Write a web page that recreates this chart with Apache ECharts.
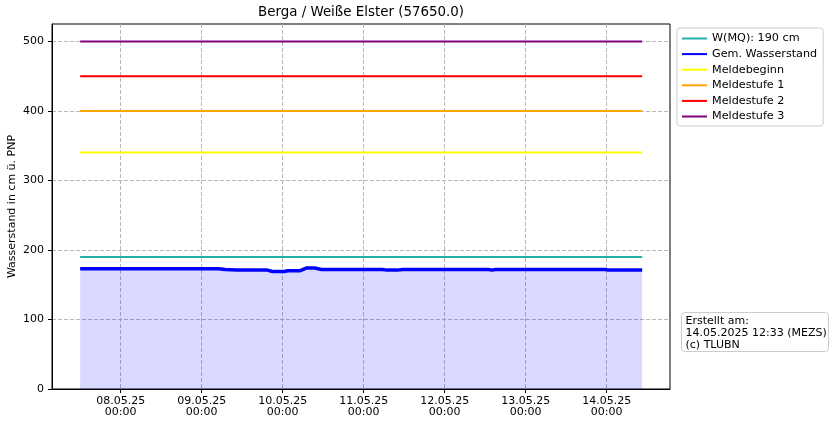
<!DOCTYPE html>
<html>
<head>
<meta charset="utf-8">
<script src="https://cdn.jsdelivr.net/npm/echarts@6/dist/echarts.min.js"></script>
<style>
  html, body { margin: 0; padding: 0; background: #fff; }
  #main { width: 834px; height: 426px; }
</style>
</head>
<body>
<div id="main"></div>
<script>
// Pegel Berga / Weisse Elster, Wasserstand in cm
var startTime = '2025-05-07 12:00';
var endTime = '2025-05-14 10:30';
var axisMin = '2025-05-07 03:40';
var axisMax = '2025-05-14 18:45';
var dayTicks = ['2025-05-08 00:00', '2025-05-09 00:00', '2025-05-10 00:00', '2025-05-11 00:00',
                '2025-05-12 00:00', '2025-05-13 00:00', '2025-05-14 00:00'];
var yTicks = [0, 100, 200, 300, 400, 500];

var levelTimes = ['2025-05-07 12:00', '2025-05-09 05:00', '2025-05-09 07:00', '2025-05-09 10:30',
                  '2025-05-09 19:30', '2025-05-09 21:00', '2025-05-10 00:30', '2025-05-10 01:30',
                  '2025-05-10 05:00', '2025-05-10 07:00', '2025-05-10 09:30', '2025-05-10 11:30',
                  '2025-05-11 05:30', '2025-05-11 07:00', '2025-05-11 10:00', '2025-05-11 11:30',
                  '2025-05-12 13:00', '2025-05-12 14:00', '2025-05-12 15:00', '2025-05-13 23:30',
                  '2025-05-14 00:30', '2025-05-14 10:30'];
var levelValues = [173, 173, 172, 171,
                   171, 169, 169, 170,
                   170, 174, 174, 172,
                   172, 171, 171, 172,
                   172, 171, 172, 172,
                   171, 171];

var mq = 190;
var meldebeginn = 340;
var meldestufe1 = 400;
var meldestufe2 = 450;
var meldestufe3 = 500;

function ts(s) { return new Date(s.replace(' ', 'T')).getTime(); }
function pad(n) { return (n < 10 ? '0' : '') + n; }

var levelData = levelTimes.map(function (t, i) { return [ts(t), levelValues[i]]; });
function flat(v) { return [[ts(startTime), v], [ts(endTime), v]]; }

var font = 'DejaVu Sans';
var myChart = echarts.init(document.getElementById('main'));

function hline(name, v, color) {
    return {
        name: name, type: 'line', data: flat(v), symbol: 'none',
        lineStyle: { color: color, width: 2 }, itemStyle: { color: color },
        silent: true
    };
}

var option = {
    backgroundColor: '#fff',
    animation: false,
    textStyle: { fontFamily: font },
    grid: {
        left: 52, right: 164, top: 24, bottom: 37,
        containLabel: false, outerBoundsMode: 'none',
        show: true, borderColor: '#000', borderWidth: 1, backgroundColor: 'transparent'
    },
    legend: {
        orient: 'vertical', left: 677, top: 28,
        itemWidth: 25, itemHeight: 12, itemGap: 4.6,
        padding: [5, 6, 4, 4],
        borderColor: '#cccccc', borderWidth: 1, borderRadius: 3,
        backgroundColor: '#fff',
        itemStyle: { opacity: 0, borderWidth: 0 },
        textStyle: { fontFamily: font, fontSize: 11.2, color: '#000' },
        data: ['W(MQ): 190 cm', 'Gem. Wasserstand', 'Meldebeginn', 'Meldestufe 1', 'Meldestufe 2', 'Meldestufe 3']
    },
    xAxis: {
        type: 'value', min: ts(axisMin), max: ts(axisMax),
        axisLine: { lineStyle: { color: '#000' } },
        axisTick: { show: true, length: 4, lineStyle: { color: '#000' }, customValues: dayTicks.map(ts) },
        axisLabel: {
            customValues: dayTicks.map(ts),
            color: '#000', fontFamily: font, fontSize: 11, lineHeight: 11, margin: 7,
            formatter: function (v) {
                var d = new Date(v);
                return pad(d.getDate()) + '.' + pad(d.getMonth() + 1) + '.' + String(d.getFullYear()).slice(2) +
                    '\n' + pad(d.getHours()) + ':' + pad(d.getMinutes());
            }
        },
        splitLine: { show: true, lineStyle: { color: '#b8b8b8', type: [4, 2], width: 1 } }
    },
    yAxis: {
        type: 'value', min: 0, max: 525,
        name: 'Wasserstand in cm ü. PNP', nameLocation: 'middle', nameGap: 34,
        nameMoveOverlap: false,
        nameTextStyle: { fontFamily: font, fontSize: 11, color: '#000' },
        axisLine: { show: true, lineStyle: { color: '#000' } },
        axisTick: { show: true, length: 4, lineStyle: { color: '#000' }, customValues: yTicks },
        axisLabel: { customValues: yTicks, color: '#000', fontFamily: font, fontSize: 11, margin: 8 },
        splitLine: { show: true, lineStyle: { color: '#b8b8b8', type: [4, 2], width: 1 } }
    },
    graphic: [{
        type: 'text', x: 361, y: 13,
        style: {
            text: 'Berga / Weiße Elster (57650.0)', align: 'center', verticalAlign: 'middle',
            fontFamily: font, fontSize: 13.4, fill: '#000'
        }
    }, {
        type: 'group', left: 681, top: 312,
        children: [{
            type: 'rect', shape: { x: 0, y: 0, width: 147, height: 39, r: 3 },
            style: { fill: '#fff', stroke: '#cccccc', lineWidth: 1 }
        }, {
            type: 'text', x: 4, y: 2.5,
            style: {
                text: 'Erstellt am:\n14.05.2025 12:33 (MEZS)\n(c) TLUBN',
                fontFamily: font, fontSize: 11, lineHeight: 12, fill: '#000'
            }
        }]
    }],
    series: [
        hline('W(MQ): 190 cm', mq, '#20b2aa'),
        {
            name: 'Gem. Wasserstand', type: 'line', data: levelData, symbol: 'none',
            lineStyle: { color: '#0000ff', width: 3.5 }, itemStyle: { color: '#0000ff' },
            areaStyle: { color: 'rgba(0,0,255,0.15)', opacity: 1, origin: 'start' }
        },
        hline('Meldebeginn', meldebeginn, '#ffff00'),
        hline('Meldestufe 1', meldestufe1, '#ffa500'),
        hline('Meldestufe 2', meldestufe2, '#ff0000'),
        hline('Meldestufe 3', meldestufe3, '#800080')
    ]
};

myChart.setOption(option);
</script>
</body>
</html>
